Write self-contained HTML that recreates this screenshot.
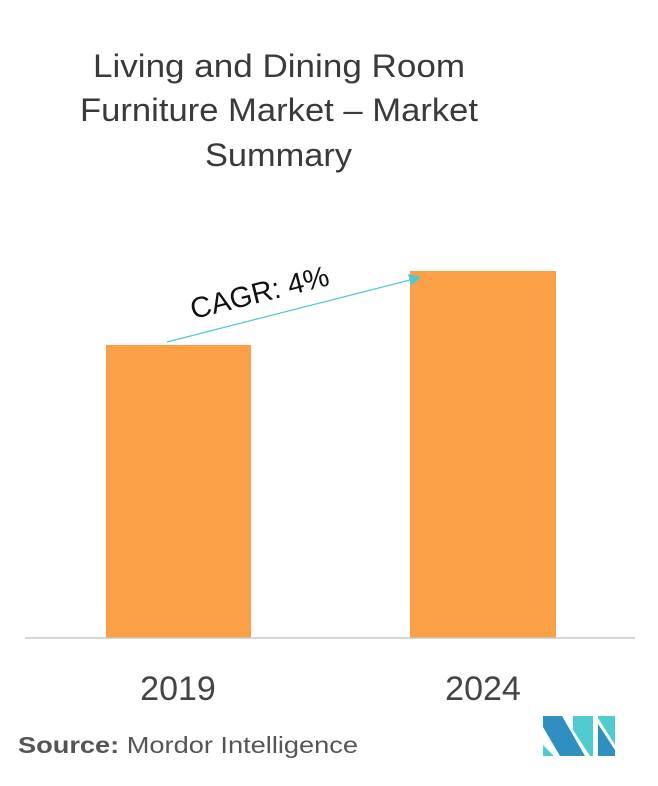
<!DOCTYPE html>
<html><head><meta charset="utf-8"><style>
body{margin:0;background:#fff;width:658px;height:781px;overflow:hidden;font-family:"Liberation Sans",sans-serif;}
</style></head><body>
<svg width="658" height="781" viewBox="0 0 658 781" xmlns="http://www.w3.org/2000/svg">
<g font-family="Liberation Sans, sans-serif" fill="#3a3a3a" font-size="32" lengthAdjust="spacingAndGlyphs">
<text x="93" y="77" textLength="372" lengthAdjust="spacingAndGlyphs">Living and Dining Room</text>
<text x="80" y="121" textLength="398" lengthAdjust="spacingAndGlyphs">Furniture Market – Market</text>
<text x="205" y="166" textLength="147" lengthAdjust="spacingAndGlyphs">Summary</text>
</g>
<rect x="106" y="345" width="145" height="293" fill="#FBA046"/>
<rect x="410" y="271" width="146" height="367" fill="#FBA046"/>
<line x1="25" y1="638" x2="635" y2="638" stroke="#c8c8c8" stroke-width="1.5"/>
<line x1="167" y1="342" x2="410" y2="280" stroke="#4FC9CF" stroke-width="1.2"/>
<polygon points="421,277 408,274 411,286" fill="#4FC9CF"/>
<text x="262" y="302" font-size="29" fill="#111" text-anchor="middle" transform="rotate(-14 262 302)" font-family="Liberation Sans, sans-serif">CAGR: 4%</text>
<g font-family="Liberation Sans, sans-serif" font-size="34" fill="#444" text-anchor="middle">
<text x="178" y="700">2019</text>
<text x="483" y="700">2024</text>
</g>
<text x="18" y="753" font-size="23" fill="#555" font-family="Liberation Sans, sans-serif" textLength="340" lengthAdjust="spacingAndGlyphs"><tspan font-weight="bold">Source:</tspan> Mordor Intelligence</text>
<polygon points="543,716 562,716 585,756 560,756 543,727" fill="#2E8FC0"/>
<polygon points="543,745 543,756 554,756" fill="#4ECDD0"/>
<polygon points="573,716 593,716 593,756 590,756 573,730" fill="#4ECDD0"/>
<polygon points="598,716 615,716 615,745 598,718" fill="#4ECDD0"/>
<polygon points="598,724 615,750 615,756 598,756" fill="#2E8FC0"/>
</svg>
</body></html>
